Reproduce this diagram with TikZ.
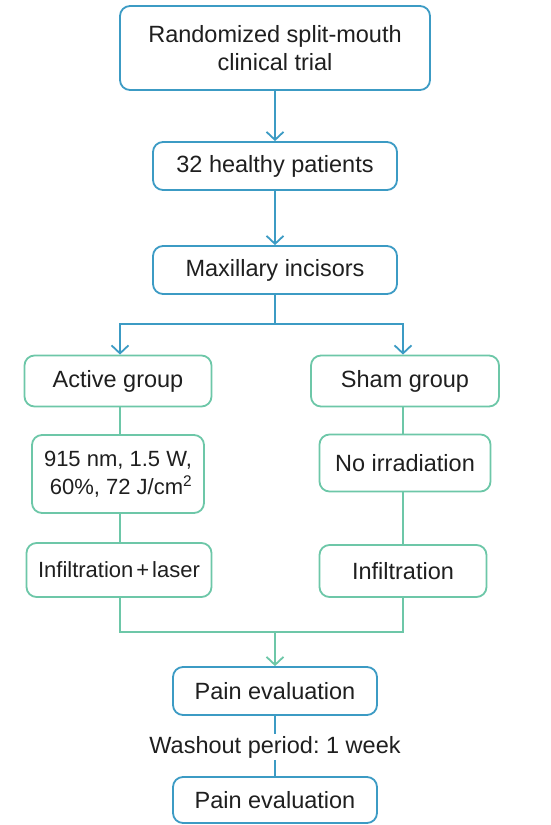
\documentclass[tikz,border=0pt]{standalone}
\usepackage{fontspec}
\setmainfont{Liberation Sans}
\usetikzlibrary{arrows.meta}
\definecolor{bl}{HTML}{3C9BC4}
\definecolor{gr}{HTML}{6DC7A8}
\frenchspacing
\begin{document}
\begin{tikzpicture}[x=1pt,y=-1pt,
  box/.style={draw, line width=1.8pt, rounded corners=10pt, fill=white, align=center, inner sep=0pt, font=\fontsize{23.5}{28}\selectfont, text=black!88},
  bbox/.style={box, draw=bl},
  gbox/.style={box, draw=gr},
  bline/.style={draw=bl, line width=1.8pt},
  gline/.style={draw=gr, line width=1.8pt},
  tip/.style={-{Straight Barb[length=8pt,width=17pt,line width=1.8pt]}}
]
\useasboundingbox (0,0) rectangle (550,825);
\node[bbox, minimum width=310pt, minimum height=84pt] (top) at (275,48) {Randomized split-mouth\\clinical trial};
\node[bbox, minimum width=244pt, minimum height=48pt] (pat) at (275,166) {32 healthy patients};
\node[bbox, minimum width=244pt, minimum height=48pt] (max) at (275,270) {Maxillary incisors};
\node[gbox, minimum width=187pt, minimum height=51pt] (act) at (118,381) {Active group};
\node[gbox, minimum width=188pt, minimum height=51pt] (sham) at (405,381) {Sham group};
\node[gbox, minimum width=172pt, minimum height=78pt, font=\fontsize{22}{28}\selectfont] (par) at (118,474) {915 nm, 1.5 W,\\\ 60\%, 72 J/cm\textsuperscript{2}};
\node[gbox, minimum width=171pt, minimum height=57pt] (noir) at (405,463) {No irradiation};
\node[gbox, minimum width=185pt, minimum height=54pt, font=\fontsize{22}{28}\selectfont] (inl) at (119,570) {Infiltration\hspace{3pt}+\hspace{3pt}laser};
\node[gbox, minimum width=167pt, minimum height=52pt] (inf) at (403,571) {Infiltration};
\node[bbox, minimum width=204pt, minimum height=48pt] (pe1) at (275,691) {Pain evaluation};
\node[font=\fontsize{23.5}{28}\selectfont, text=black!88, inner sep=2pt] (wash) at (275,747) {Washout period: 1 week};
\node[bbox, minimum width=204pt, minimum height=46pt] (pe2) at (275,800) {Pain evaluation};
\coordinate (split) at (275,324);
\coordinate (merge) at (275,632);
\draw[bline, tip] (top) -- (pat);
\draw[bline, tip] (pat) -- (max);
\draw[bline] (max.south) -- (split);
\draw[bline, tip] (split) -| (act.north -| 120,0);
\draw[bline, tip] (split) -| (sham.north -| 403,0);
\draw[gline] (act.south -| 120,0) -- (par.north -| 120,0);
\draw[gline] (par.south -| 120,0) -- (inl.north -| 120,0);
\draw[gline] (sham.south -| 403,0) -- (noir.north -| 403,0);
\draw[gline] (noir.south -| 403,0) -- (inf.north -| 403,0);
\draw[gline] (inl.south -| 120,0) |- (merge);
\draw[gline] (inf.south -| 403,0) |- (merge);
\draw[gline, tip] (merge) -- (pe1);
\draw[bline] (pe1) -- (wash);
\draw[bline] (wash) -- (pe2);
\end{tikzpicture}
\end{document}
